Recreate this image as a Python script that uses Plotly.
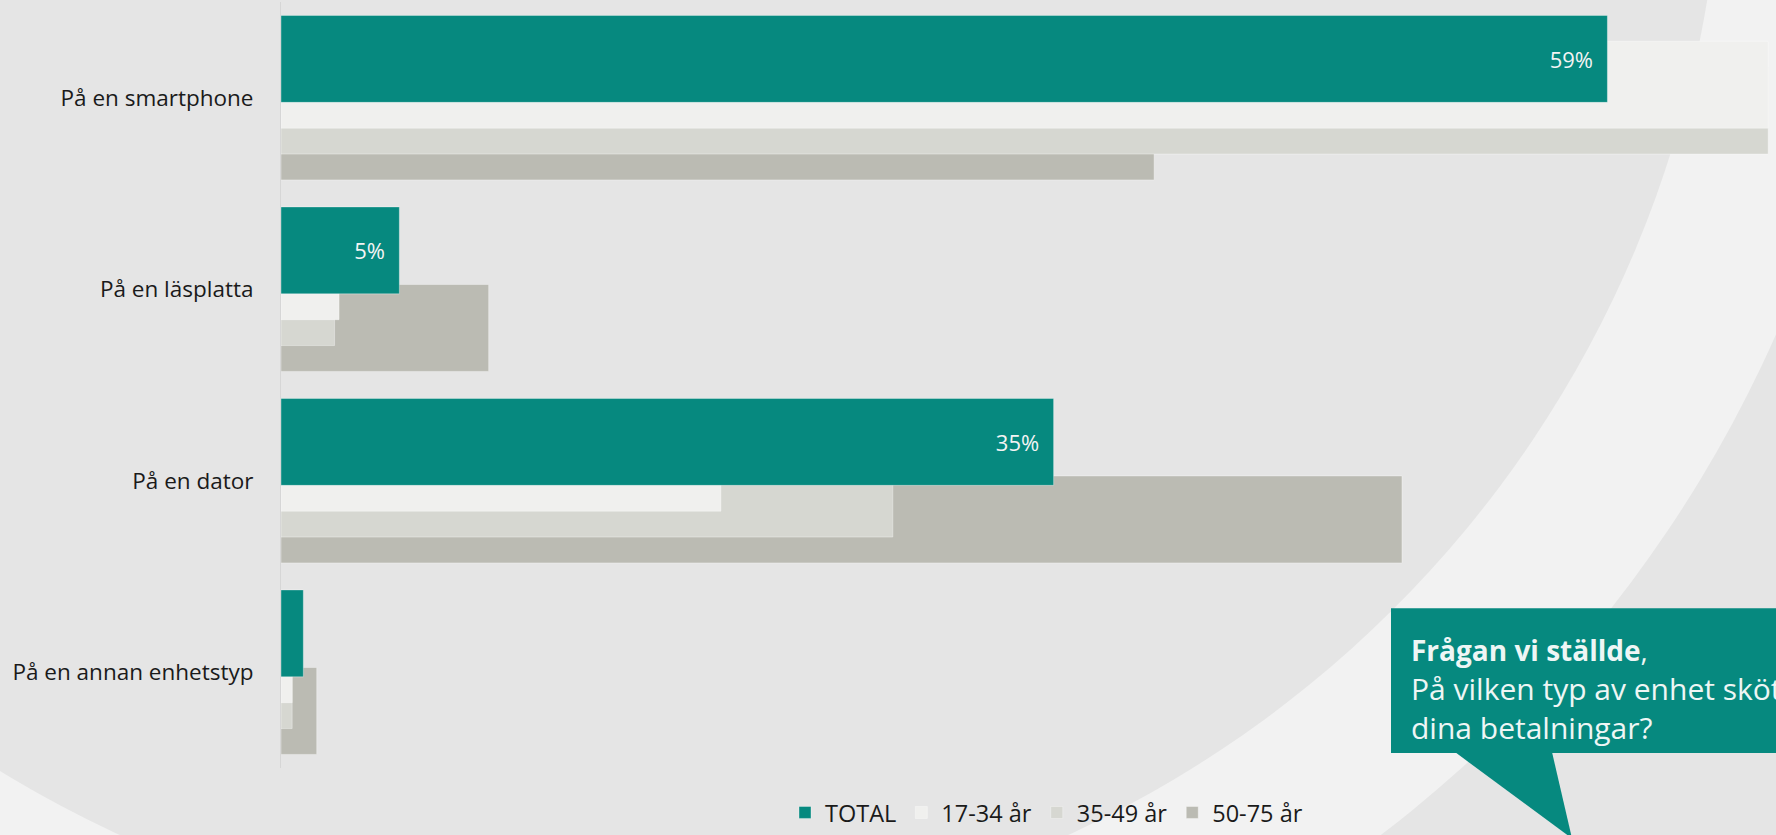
import plotly.graph_objects as go

# ---------------- data ----------------
categories = ["På en smartphone", "På en läsplatta", "På en dator", "På en annan enhetstyp"]
series_names = ["TOTAL", "17-34 år", "35-49 år", "50-75 år"]
total = [59.4, 5.3, 34.6, 1.0]
age_17_34 = [66.6, 2.6, 19.7, 0.5]
age_35_49 = [66.6, 2.4, 27.4, 0.5]
age_50_75 = [39.1, 9.3, 50.2, 1.6]

question_title = "Frågan vi ställde"
question_text = ["På vilken typ av enhet sköter du", "dina betalningar?"]

# ---------------- style ----------------
W, H = 1776, 835
ML, MR, MT, MB = 281, 0, 2, 61
PW, PH = W - ML - MR, H - MT - MB

BG = "#e5e5e5"
LIGHT = "#f2f2f2"
TEAL = "#06897f"
colors = [TEAL, "#f0f0ee", "#d6d7d1", "#bbbbb3"]
FONT = "Open Sans"
TXT = "#1a1a1a"

bar_w = 0.454
offsets = [-0.43, -0.295, -0.16, -0.025]


def px_x(px):
    return (px - ML) / PW


def px_y(py):
    return (H - MB - py) / PH


fig = go.Figure()
values = [total, age_17_34, age_35_49, age_50_75]
# draw oldest group first so TOTAL ends up on top
for i in [3, 2, 1, 0]:
    kw = {}
    if i == 0:
        kw = dict(
            texttemplate="%{x:.0f}%\u00a0\u00a0",
            textposition="inside",
            insidetextanchor="end",
            textfont=dict(family=FONT, size=22, color="#f4f4f4"),
        )
    fig.add_trace(go.Bar(
        y=categories, x=values[i], orientation="h", name=series_names[i],
        width=bar_w, offset=offsets[i],
        marker=dict(color=colors[i], line=dict(color="rgba(255,255,255,0.35)", width=1)),
        legendrank=i + 1, hoverinfo="skip", **kw))

shapes = []
# decorative background ring
cx, cy = 594, -182
for r, col in [(1291, LIGHT), (1128, BG)]:
    shapes.append(dict(type="circle", xref="paper", yref="paper",
                       x0=px_x(cx - r), x1=px_x(cx + r), y0=px_y(cy + r), y1=px_y(cy - r),
                       fillcolor=col, line=dict(width=0), layer="below"))
# callout box and tail
shapes.append(dict(type="rect", xref="paper", yref="paper",
                   x0=px_x(1391), x1=px_x(1800), y0=px_y(759), y1=px_y(613),
                   fillcolor=TEAL, line=dict(width=0), layer="above"))
tail = [(1455, 758), (1552, 758), (1572, 845)]
path = "M " + " L ".join(f"{px_x(x):.5f},{px_y(y):.5f}" for x, y in tail) + " Z"
shapes.append(dict(type="path", xref="paper", yref="paper", path=path,
                   fillcolor=TEAL, line=dict(width=0), layer="above"))

annotations = [dict(
    xref="paper", yref="paper", x=px_x(1409), y=px_y(695), xanchor="left", yanchor="middle",
    align="left", showarrow=False,
    text=f"<span style='font-size:28px'><b>{question_title}</b>,</span><br>" + "<br>".join(question_text),
    font=dict(family=FONT, size=30, color="#eef6f5"))]

fig.update_layout(
    width=W, height=H,
    margin=dict(l=ML, r=MR, t=MT, b=MB, pad=0),
    paper_bgcolor=BG, plot_bgcolor="rgba(0,0,0,0)",
    barmode="overlay",
    font=dict(family=FONT, size=22, color=TXT),
    shapes=shapes, annotations=annotations,
    showlegend=True,
    legend=dict(orientation="h", x=px_x(785), xanchor="left", y=px_y(819), yanchor="middle",
                font=dict(family=FONT, size=23.5, color=TXT), bgcolor="rgba(0,0,0,0)",
                itemclick=False),
    uniformtext=dict(mode="hide", minsize=20),
)
fig.update_xaxes(range=[0, 66.95], visible=False, showgrid=False, zeroline=False, fixedrange=True)
fig.update_yaxes(categoryorder="array", categoryarray=categories, range=[3.5, -0.5],
                 showgrid=False, zeroline=False, showline=True, linecolor="#d6d6d6", linewidth=1,
                 ticks="", ticklabelstandoff=22, tickfont=dict(family=FONT, size=22.5, color=TXT),
                 fixedrange=True)

fig.write_html(
    "out.html",
    config={"displayModeBar": False},
    post_script="document.body.style.margin='0';document.body.style.overflow='hidden';",
)
